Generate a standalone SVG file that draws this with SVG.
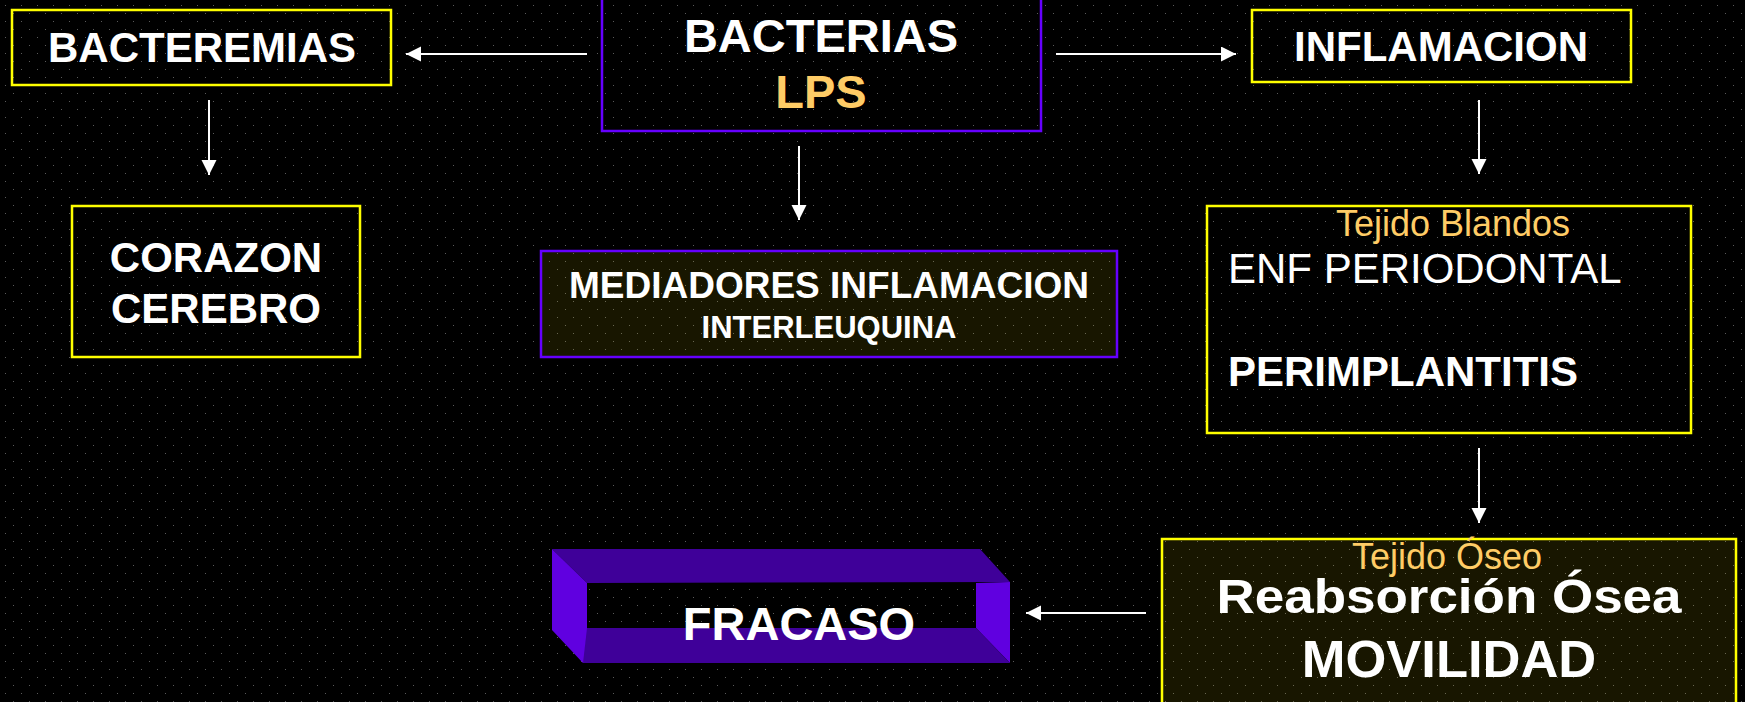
<svg xmlns="http://www.w3.org/2000/svg" width="1745" height="702" viewBox="0 0 1745 702">
<style>
.bx{fill:none;stroke:#ffff00;stroke-width:2.5}
.pb{stroke:#6600ff;stroke-width:2.5}
.ol{fill:#e8d800;fill-opacity:0.1}
.t{font-family:"Liberation Sans",Arial,sans-serif;fill:#ffffff;text-anchor:middle}
.b{font-weight:bold}
.g{fill:#ffcc66}
.cn line{stroke:#ffffff;stroke-width:2;marker-end:url(#ah)}
</style>
<defs>
<pattern id="dots" width="16" height="16" patternUnits="userSpaceOnUse">
<rect x="5" y="5" width="1" height="1" fill="#5a5a5a"/>
<rect x="13" y="13" width="1" height="1" fill="#5a5a5a"/>
</pattern>
<marker id="ah" markerUnits="userSpaceOnUse" markerWidth="16" markerHeight="16" refX="15" refY="7.5" orient="auto">
<path d="M0,0 L15,7.5 L0,15 z" fill="#ffffff"/>
</marker>
</defs>
<rect width="1745" height="702" fill="#000000"/>
<rect width="1745" height="702" fill="url(#dots)"/>

<g id="connectors" class="cn">
<line x1="587" y1="54" x2="406" y2="54"/>
<line x1="1056" y1="54" x2="1236" y2="54"/>
<line x1="799" y1="146" x2="799" y2="220"/>
<line x1="209" y1="100" x2="209" y2="175"/>
<line x1="1479" y1="100" x2="1479" y2="174"/>
<line x1="1479" y1="448" x2="1479" y2="523"/>
<line x1="1146" y1="613" x2="1026" y2="613"/>
</g>

<g id="bacteremias">
<rect class="bx" x="12" y="10" width="379" height="75"/>
<text class="t b" x="202" y="62" font-size="43" textLength="308" lengthAdjust="spacingAndGlyphs">BACTEREMIAS</text>
</g>

<g id="bacterias">
<rect class="pb" fill="none" x="602" y="-10" width="439" height="141"/>
<text class="t b" x="821" y="52" font-size="47">BACTERIAS</text>
<text class="t b g" x="821" y="108" font-size="47">LPS</text>
</g>

<g id="inflamacion">
<rect class="bx" x="1252" y="10" width="379" height="72"/>
<text class="t b" x="1441" y="61" font-size="42">INFLAMACION</text>
</g>

<g id="corazon">
<rect class="bx" x="72" y="206" width="288" height="151"/>
<text class="t b" x="216" y="272" font-size="42">CORAZON</text>
<text class="t b" x="216" y="323" font-size="42">CEREBRO</text>
</g>

<g id="mediadores">
<rect class="pb ol" x="541" y="251" width="576" height="106"/>
<text class="t b" x="829" y="298" font-size="37">MEDIADORES INFLAMACION</text>
<text class="t b" x="829" y="338" font-size="31">INTERLEUQUINA</text>
</g>

<g id="periodontal">
<rect class="bx" x="1207" y="206" width="484" height="227"/>
<text class="t g" x="1453" y="236" font-size="36">Tejido Blandos</text>
<text class="t" x="1228" y="283" font-size="42" style="text-anchor:start">ENF PERIODONTAL</text>
<text class="t b" x="1228" y="386" font-size="42" style="text-anchor:start">PERIMPLANTITIS</text>
</g>

<g id="reabsorcion">
<rect class="bx" x="1162" y="539" width="574" height="200" style="fill:#e8d800;fill-opacity:0.1"/>
<text class="t g" x="1447" y="569" font-size="36">Tejido Óseo</text>
<text class="t b" x="1449" y="613" font-size="48" textLength="465" lengthAdjust="spacingAndGlyphs">Reabsorción Ósea</text>
<text class="t b" x="1449" y="677" font-size="52.5">MOVILIDAD</text>
</g>

<g id="fracaso">
<polygon points="552,549 980,549 1010,582 587,583" fill="#3f0099"/>
<polygon points="552,549 587,583 587,663 583,663 552,630" fill="#6000e0"/>
<polygon points="976,583 1010,582 1010,663 976,628" fill="#6000e0"/>
<polygon points="587,628 976,628 1010,663 583,663" fill="#3f0099"/>
<text class="t b" x="799" y="640" font-size="47">FRACASO</text>
</g>
</svg>
